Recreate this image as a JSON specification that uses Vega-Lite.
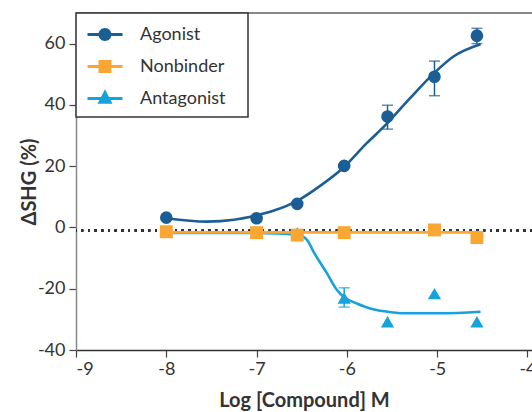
{
  "$schema": "https://vega.github.io/schema/vega-lite/v6.json",
  "width": 456,
  "height": 337,
  "autosize": "none",
  "padding": {"left": 76, "top": 13, "right": 0, "bottom": 62},
  "background": "white",
  "config": {
    "view": {"stroke": null},
    "font": "Lato",
    "axis": {"labelFont": "Lato", "labelFontSize": 18, "labelColor": "#333", "titleFont": "Lato", "titleFontSize": 20, "titleFontWeight": "bold", "titleColor": "#333", "grid": false, "tickColor": "#444", "tickSize": 7, "tickWidth": 1.2}
  },
  "datasets": {
    "points": [
      {"series": "Agonist", "x": -8, "y": 3.2},
      {"series": "Agonist", "x": -7, "y": 3.0},
      {"series": "Agonist", "x": -6.55, "y": 7.7},
      {"series": "Agonist", "x": -6.03, "y": 20.1},
      {"series": "Agonist", "x": -5.55, "y": 36.2, "lo": 32.1, "hi": 39.9},
      {"series": "Agonist", "x": -5.03, "y": 49.2, "lo": 43.0, "hi": 54.3},
      {"series": "Agonist", "x": -4.56, "y": 62.6, "lo": 60.0, "hi": 65.0},
      {"series": "Antagonist", "x": -8, "y": -1.6},
      {"series": "Antagonist", "x": -7, "y": -1.9},
      {"series": "Antagonist", "x": -6.55, "y": -1.8},
      {"series": "Antagonist", "x": -6.03, "y": -23.0, "lo": -26.0, "hi": -19.7},
      {"series": "Antagonist", "x": -5.55, "y": -30.8},
      {"series": "Antagonist", "x": -5.03, "y": -21.6},
      {"series": "Antagonist", "x": -4.56, "y": -30.8},
      {"series": "Nonbinder", "x": -8, "y": -1.4},
      {"series": "Nonbinder", "x": -7, "y": -1.7},
      {"series": "Nonbinder", "x": -6.55, "y": -2.5},
      {"series": "Nonbinder", "x": -6.03, "y": -1.7},
      {"series": "Nonbinder", "x": -5.03, "y": -0.8},
      {"series": "Nonbinder", "x": -4.56, "y": -3.3}
    ],
    "curves": [
      {"series": "Agonist", "x": -8, "y": 3.0},
      {"series": "Agonist", "x": -7.55, "y": 1.9},
      {"series": "Agonist", "x": -7.25, "y": 2.5},
      {"series": "Agonist", "x": -7.01, "y": 3.9},
      {"series": "Agonist", "x": -6.8, "y": 5.6},
      {"series": "Agonist", "x": -6.55, "y": 8.7},
      {"series": "Agonist", "x": -6.3, "y": 13.5},
      {"series": "Agonist", "x": -6.04, "y": 19.5},
      {"series": "Agonist", "x": -5.78, "y": 27.5},
      {"series": "Agonist", "x": -5.56, "y": 33.8},
      {"series": "Agonist", "x": -5.3, "y": 42.2},
      {"series": "Agonist", "x": -5.04, "y": 50.2},
      {"series": "Agonist", "x": -4.82, "y": 55.8},
      {"series": "Agonist", "x": -4.52, "y": 59.8},
      {"series": "Antagonist", "x": -8, "y": -1.8},
      {"series": "Antagonist", "x": -7, "y": -1.8},
      {"series": "Antagonist", "x": -6.55, "y": -2.3},
      {"series": "Antagonist", "x": -6.44, "y": -4.1},
      {"series": "Antagonist", "x": -6.37, "y": -7.9},
      {"series": "Antagonist", "x": -6.22, "y": -15.0},
      {"series": "Antagonist", "x": -6.11, "y": -20.4},
      {"series": "Antagonist", "x": -6.03, "y": -22.8},
      {"series": "Antagonist", "x": -5.89, "y": -24.8},
      {"series": "Antagonist", "x": -5.71, "y": -26.7},
      {"series": "Antagonist", "x": -5.55, "y": -27.5},
      {"series": "Antagonist", "x": -5.34, "y": -28.0},
      {"series": "Antagonist", "x": -4.97, "y": -28.0},
      {"series": "Antagonist", "x": -4.52, "y": -27.5},
      {"series": "Nonbinder", "x": -8, "y": -1.6},
      {"series": "Nonbinder", "x": -4.52, "y": -1.6}
    ]
  },
  "data": {"name": "points"},
  "resolve": {"scale": {"shape": "independent", "color": "independent"}},
  "layer": [
    {
      "mark": {"type": "rule", "color": "#333", "strokeWidth": 1.8, "strokeDash": [1.8, 4.9]},
      "encoding": {
        "y": {"datum": -1, "type": "quantitative", "scale": {"domain": [-40, 70], "nice": false, "zero": false}}
      }
    },
    {
      "mark": {"type": "rule", "color": "#888", "strokeWidth": 1.5},
      "encoding": {"y": {"datum": 70, "type": "quantitative"}}
    },
    {
      "data": {"name": "curves"},
      "mark": {"type": "line", "strokeWidth": 2.6, "interpolate": "monotone"},
      "encoding": {
        "x": {"field": "x", "type": "quantitative"},
        "y": {"field": "y", "type": "quantitative"},
        "color": {"field": "series", "type": "nominal", "legend": null, "scale": {"domain": ["Agonist", "Nonbinder", "Antagonist"], "range": ["#1b5e95", "#f9a633", "#16a2dc"]}},
        "order": {"field": "x"}
      }
    },
    {
      "transform": [{"filter": "isValid(datum.lo)"}],
      "mark": {"type": "rule", "strokeWidth": 1.5},
      "encoding": {
        "x": {"field": "x", "type": "quantitative"},
        "y": {"field": "lo", "type": "quantitative"},
        "y2": {"field": "hi"},
        "color": {"field": "series", "type": "nominal", "legend": null, "scale": {"domain": ["Agonist", "Nonbinder", "Antagonist"], "range": ["#1b5e95", "#f9a633", "#16a2dc"]}}
      }
    },
    {
      "transform": [{"filter": "isValid(datum.lo)"}],
      "mark": {"type": "tick", "orient": "horizontal", "size": 11, "thickness": 1.5},
      "encoding": {
        "x": {"field": "x", "type": "quantitative"},
        "y": {"field": "lo", "type": "quantitative"},
        "color": {"field": "series", "type": "nominal", "legend": null, "scale": {"domain": ["Agonist", "Nonbinder", "Antagonist"], "range": ["#1b5e95", "#f9a633", "#16a2dc"]}}
      }
    },
    {
      "transform": [{"filter": "isValid(datum.lo)"}],
      "mark": {"type": "tick", "orient": "horizontal", "size": 11, "thickness": 1.5},
      "encoding": {
        "x": {"field": "x", "type": "quantitative"},
        "y": {"field": "hi", "type": "quantitative"},
        "color": {"field": "series", "type": "nominal", "legend": null, "scale": {"domain": ["Agonist", "Nonbinder", "Antagonist"], "range": ["#1b5e95", "#f9a633", "#16a2dc"]}}
      }
    },
    {
      "mark": {"type": "point", "filled": true, "opacity": 1, "strokeWidth": 0},
      "encoding": {
        "x": {
          "field": "x", "type": "quantitative",
          "scale": {"domain": [-9, -3.95], "nice": false, "zero": false},
          "axis": {"values": [-9, -8, -7, -6, -5, -4], "labelExpr": "datum.value + ''", "title": "Log [Compound] M", "domainColor": "#333", "domainWidth": 1.5, "labelPadding": 3, "titlePadding": 12}
        },
        "y": {
          "field": "y", "type": "quantitative",
          "scale": {"domain": [-40, 70], "nice": false, "zero": false},
          "axis": {"values": [-40, -20, 0, 20, 40, 60], "labelExpr": "datum.value + ''", "title": "ΔSHG (%)", "domainColor": "#888", "domainWidth": 1.5, "labelPadding": 4, "titlePadding": -2}
        },
        "color": {
          "field": "series", "type": "nominal",
          "scale": {"domain": ["Agonist", "Nonbinder", "Antagonist"], "range": ["#1b5e95", "#f9a633", "#16a2dc"]},
          "legend": null
        },
        "shape": {
          "field": "series", "type": "nominal",
          "scale": {"domain": ["Agonist", "Nonbinder", "Antagonist"], "range": ["circle", "square", "triangle-up"]},
          "legend": null
        },
        "size": {
          "field": "series", "type": "nominal",
          "scale": {"domain": ["Agonist", "Nonbinder", "Antagonist"], "range": [160, 175, 230]},
          "legend": null
        }
      }
    },
    {
      "mark": {"type": "point", "filled": true, "opacity": 0},
      "encoding": {
        "x": {"field": "x", "type": "quantitative"},
        "y": {"field": "y", "type": "quantitative"},
        "color": {
          "field": "series", "type": "nominal",
          "scale": {"domain": ["Agonist", "Nonbinder", "Antagonist"], "range": ["#1b5e95", "#f9a633", "#16a2dc"]},
          "legend": {
            "title": null,
            "orient": "top-left",
            "offset": 0,
            "padding": 9,
            "rowPadding": 10,
            "strokeColor": "#333",
            "fillColor": "white",
            "symbolSize": 625,
            "symbolOffset": 7.5,
            "labelOffset": 22.5,
            "symbolStrokeWidth": 0,
            "symbolOpacity": 1,
            "labelFont": "Lato",
            "labelFontSize": 18,
            "labelColor": "#333",
            "labelExpr": "datum.label + '\u2800'",
            "encode": {
              "symbols": {"update": {"opacity": {"value": 1}}},
              "legend": {"update": {"strokeWidth": {"value": 1.5}}}
            }
          }
        },
        "shape": {
          "field": "series", "type": "nominal",
          "scale": {
            "domain": ["Agonist", "Nonbinder", "Antagonist"],
            "range": [
              "M-1.4,-0.12H1.4V0.12H-1.4Z M-0.52,0A0.52,0.52 0 1,1 0.52,0A0.52,0.52 0 1,1 -0.52,0Z",
              "M-1.4,-0.12H1.4V0.12H-1.4Z M-0.52,-0.52H0.52V0.52H-0.52Z",
              "M-1.4,-0.12H1.4V0.12H-1.4Z M0,-0.74L0.6,0.42H-0.6Z"
            ]
          },
          "legend": {
            "title": null,
            "orient": "top-left",
            "offset": 0,
            "padding": 9,
            "rowPadding": 10,
            "strokeColor": "#333",
            "fillColor": "white",
            "symbolSize": 625,
            "symbolOffset": 7.5,
            "labelOffset": 22.5,
            "symbolStrokeWidth": 0,
            "symbolOpacity": 1,
            "labelFont": "Lato",
            "labelFontSize": 18,
            "labelColor": "#333",
            "labelExpr": "datum.label + '\u2800'",
            "encode": {
              "symbols": {"update": {"opacity": {"value": 1}}},
              "legend": {"update": {"strokeWidth": {"value": 1.5}}}
            }
          }
        }
      }
    }
  ]
}
